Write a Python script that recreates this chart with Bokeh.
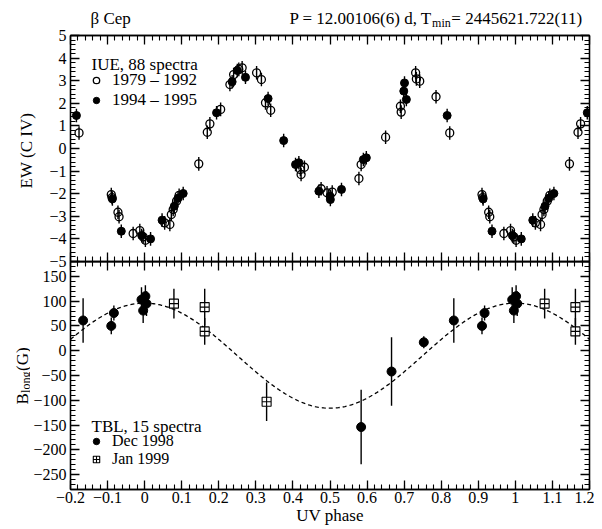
import numpy as np
from bokeh.plotting import figure
from bokeh.layouts import column, row
from bokeh.models import (FixedTicker, LinearAxis, Range1d, Label, Legend,
                          LegendItem, ColumnDataSource)
from bokeh.embed import file_html
from bokeh.resources import INLINE

# ---------------- data ----------------
# IUE C IV equivalent width, base phases in [0, 1)
IUE_OLD_PHASE = [0.002, 0.054, 0.068, 0.072, 0.077, 0.086, 0.093, 0.146, 0.169,
                 0.176, 0.205, 0.230, 0.240, 0.254, 0.263, 0.302, 0.315, 0.326,
                 0.340, 0.420, 0.422, 0.431, 0.476, 0.492, 0.506, 0.578, 0.584,
                 0.650, 0.690, 0.692, 0.731, 0.733, 0.742, 0.786, 0.823, 0.910,
                 0.912, 0.928, 0.931, 0.969, 0.987, 0.996]
IUE_OLD_EW = [-4.06, -3.29, -3.36, -2.92, -2.70, -2.33, -2.07, -0.68, 0.72,
              1.09, 1.73, 2.83, 3.27, 3.50, 3.57, 3.35, 3.05, 2.02,
              1.69, -0.93, -1.15, -0.83, -1.78, -1.96, -1.93, -1.33, -0.71,
              0.50, 1.87, 1.61, 3.35, 3.08, 2.98, 2.29, 0.69, -2.04,
              -2.17, -2.82, -3.02, -3.76, -3.63, -3.91]
IUE_NEW_PHASE = [0.016, 0.047, 0.080, 0.090, 0.104, 0.194, 0.236, 0.250, 0.272,
                 0.333, 0.375, 0.407, 0.416, 0.470, 0.500, 0.501, 0.531, 0.590,
                 0.598, 0.699, 0.701, 0.706, 0.816, 0.913, 0.937, 0.992]
IUE_NEW_EW = [-4.00, -3.17, -2.55, -2.20, -1.99, 1.58, 2.95, 3.45, 3.15,
              2.21, 0.35, -0.71, -0.63, -1.89, -2.11, -2.26, -1.81, -0.49,
              -0.41, 2.54, 2.90, 2.17, 1.46, -2.23, -3.66, -3.85]
EW_ERR = 0.3

# TBL longitudinal field
TBL_DEC_PHASE = [0.834, 0.910, 0.917, 0.9915, 0.002, 0.005, 0.996, 0.584, 0.666, 0.753]
TBL_DEC_B = [61, 50, 76, 103, 110, 95, 81, -154, -42, 17]
TBL_DEC_ERR = [45, 17, 15, 25, 22, 25, 25, 75, 69, 12]
TBL_JAN_PHASE = [0.079, 0.162, 0.162, 0.329]
TBL_JAN_B = [95, 88, 39, -103]
TBL_JAN_ERR = [30, 37, 27, 39]

# sinusoidal fit (dashed curve)
FIT_B0 = -10.0
FIT_AMP = 106.0
FIT_PHASE_MAX = 0.0

X_TICKS = [-0.2, -0.1, 0, 0.1, 0.2, 0.3, 0.4, 0.5, 0.6, 0.7, 0.8, 0.9, 1, 1.1, 1.2]
X_TICK_LABELS = ["\u22120.2", "\u22120.1", "0", "0.1", "0.2", "0.3", "0.4", "0.5",
                 "0.6", "0.7", "0.8", "0.9", "1", "1.1", "1.2"]
EW_TICKS = [-5, -4, -3, -2, -1, 0, 1, 2, 3, 4, 5]
EW_TICK_LABELS = ["\u22125", "\u22124", "\u22123", "\u22122", "\u22121", "0",
                  "1", "2", "3", "4", "5"]
B_TICKS = [-250, -200, -150, -100, -50, 0, 50, 100, 150]
B_TICK_LABELS = ["\u2212250", "\u2212200", "\u2212150", "\u2212100", "\u221250",
                 "0", "50", "100", "150"]

SERIF = "Liberation Serif"
X_RANGE = (-0.2, 1.2)


def extend(phases, vals, errs):
    xs, ys, es = [], [], []
    for ph, v, e in zip(phases, vals, errs):
        for shift in (-1, 0, 1):
            q = ph + shift
            if X_RANGE[0] <= q <= X_RANGE[1]:
                xs.append(q)
                ys.append(v)
                es.append(e)
    return dict(x=xs, y=ys, lo=[a - b for a, b in zip(ys, es)],
                hi=[a + b for a, b in zip(ys, es)])


def style_axis(ax, ticks, minor, labels=None):
    ax.ticker = FixedTicker(ticks=ticks, minor_ticks=minor)
    ax.major_tick_in = 9
    ax.major_tick_out = 0
    ax.minor_tick_in = 5
    ax.minor_tick_out = 0
    ax.axis_line_color = "black"
    ax.axis_line_width = 1.3
    ax.major_tick_line_color = "black"
    ax.major_tick_line_width = 1.3
    ax.minor_tick_line_color = "black"
    ax.minor_tick_line_width = 1.1
    ax.major_label_text_font = SERIF
    ax.major_label_text_color = "black"
    if labels is None:
        ax.major_label_text_font_size = "0px"
        ax.major_label_text_alpha = 0
        ax.major_label_standoff = 0
    else:
        ax.major_label_text_font_size = "16px"
        ax.major_label_standoff = 4
        ax.major_label_overrides = {t: l for t, l in zip(ticks, labels)}


def make_fig(width, height, yr, top, bottom, left):
    p = figure(width=width, height=height, x_range=Range1d(*X_RANGE),
               y_range=Range1d(*yr), output_backend="svg", toolbar_location=None,
               x_axis_location=None, y_axis_location=None,
               min_border_left=left, min_border_right=5,
               min_border_top=top, min_border_bottom=bottom)
    p.xgrid.visible = False
    p.ygrid.visible = False
    p.outline_line_color = "black"
    p.outline_line_width = 1.3
    return p


def text_fig(width, height):
    p = figure(width=width, height=height, x_range=Range1d(0, 1), y_range=Range1d(0, 1),
               output_backend="svg", toolbar_location=None,
               x_axis_location=None, y_axis_location=None, min_border=0,
               min_border_left=0, min_border_right=0, min_border_top=0,
               min_border_bottom=0)
    p.xgrid.visible = False
    p.ygrid.visible = False
    p.outline_line_color = None
    return p


def lab(p, text, x, y, size="17px", angle=0, align="left"):
    p.add_layout(Label(x=x, y=y, x_units="screen", y_units="screen", text=text,
                       text_font=SERIF, text_font_size=size, text_color="black",
                       angle=angle, angle_units="deg", text_align=align,
                       text_baseline="alphabetic"))


x_minor = [round(v, 3) for v in np.arange(-0.2, 1.2001, 0.02)]
ew_minor = [round(v, 2) for v in np.arange(-5, 5.001, 0.2)]
b_minor = [float(v) for v in np.arange(-280, 181, 10)]

TOTAL_W = 594
TITLE_H = 28
PAD = 7            # room for the half of an end tick label
TOP_FRAME_H = 226
BOT_H = 268
FRAME_LEFT = 70
PL2_W = 30

# ---------------- title row (frame aligned with the panels' frames) ----------------
pt = text_fig(TOTAL_W, TITLE_H)
lab(pt, "\u03b2 Cep", 20, 10)
lab(pt, "P = 12.00106(6) d, T", 218.9, 10)
lab(pt, "min", 361.6, 6, size="12px")
lab(pt, " = 2445621.722(11)", 380.8, 10)

# ---------------- top panel ----------------
p1 = make_fig(TOTAL_W, TOP_FRAME_H + 2 * PAD, (-5, 5), PAD, PAD, FRAME_LEFT)
p1.background_fill_color = "white"
p1.border_fill_color = "white"
for loc, labs in (("left", EW_TICK_LABELS), ("right", None)):
    ax = LinearAxis()
    style_axis(ax, EW_TICKS, ew_minor, labs)
    if loc == "left":
        ax.axis_label = "EW  (C IV)"
        ax.axis_label_text_font = SERIF
        ax.axis_label_text_font_size = "17px"
        ax.axis_label_text_font_style = "normal"
        ax.axis_label_text_color = "black"
        ax.axis_label_standoff = 10
    p1.add_layout(ax, loc)
for loc in ("above", "below"):
    ax = LinearAxis()
    style_axis(ax, X_TICKS, x_minor, None)
    p1.add_layout(ax, loc)

old = ColumnDataSource(extend(IUE_OLD_PHASE, IUE_OLD_EW, [EW_ERR] * len(IUE_OLD_EW)))
new = ColumnDataSource(extend(IUE_NEW_PHASE, IUE_NEW_EW, [EW_ERR] * len(IUE_NEW_EW)))
for src in (old, new):
    p1.segment(x0="x", y0="lo", x1="x", y1="hi", source=src, line_color="black",
               line_width=1.4)
r_old = p1.scatter("x", "y", source=old, marker="circle", size=8, fill_color=None,
                   line_color="black", line_width=1.3)
r_new = p1.scatter("x", "y", source=new, marker="circle", size=8, fill_color="black",
                   line_color="black", line_width=1)

leg1 = Legend(items=[LegendItem(label="1979 \u2013 1992", renderers=[r_old]),
                     LegendItem(label="1994 \u2013 1995", renderers=[r_new])],
              location=(18, 151), margin=0, padding=0, spacing=0,
              glyph_width=16, glyph_height=16, label_height=18, label_standoff=8,
              label_text_font=SERIF, label_text_font_size="17px",
              label_text_color="black",
              border_line_color=None, background_fill_alpha=0)
p1.add_layout(leg1, "center")
lab(p1, "IUE, 88 spectra", 21, 197)

# ---------------- bottom panel ----------------
p2 = make_fig(TOTAL_W - PL2_W, BOT_H, (-280, 180), 0, 40, FRAME_LEFT - PL2_W)
p2.background_fill_alpha = 0
p2.border_fill_alpha = 0
for loc, labs in (("left", B_TICK_LABELS), ("right", None)):
    ax = LinearAxis()
    style_axis(ax, B_TICKS, b_minor, labs)
    p2.add_layout(ax, loc)
for loc, labs in (("above", None), ("below", X_TICK_LABELS)):
    ax = LinearAxis()
    style_axis(ax, X_TICKS, x_minor, labs)
    if loc == "below":
        ax.axis_label = "UV phase"
        ax.axis_label_text_font = SERIF
        ax.axis_label_text_font_size = "17px"
        ax.axis_label_text_font_style = "normal"
        ax.axis_label_text_color = "black"
        ax.axis_label_standoff = 0
        ax.major_label_standoff = 2
    p2.add_layout(ax, loc)

fit_x = np.linspace(X_RANGE[0], X_RANGE[1], 400)
fit_y = FIT_B0 + FIT_AMP * np.cos(2 * np.pi * (fit_x - FIT_PHASE_MAX))
p2.line(fit_x, fit_y, line_color="black", line_dash="4 3", line_width=1.3)

dec = ColumnDataSource(extend(TBL_DEC_PHASE, TBL_DEC_B, TBL_DEC_ERR))
jan = ColumnDataSource(extend(TBL_JAN_PHASE, TBL_JAN_B, TBL_JAN_ERR))
for src in (dec, jan):
    p2.segment(x0="x", y0="lo", x1="x", y1="hi", source=src, line_color="black",
               line_width=1.4)
r_dec = p2.scatter("x", "y", source=dec, marker="circle", size=9, fill_color="black",
                   line_color="black")
r_jan = p2.scatter("x", "y", source=jan, marker="square_cross", size=9,
                   fill_color="white", line_color="black", line_width=1.1)

leg2 = Legend(items=[LegendItem(label="Dec 1998", renderers=[r_dec]),
                     LegendItem(label="Jan 1999", renderers=[r_jan])],
              location=(18, 21.1), margin=0, padding=0, spacing=0,
              glyph_width=16, glyph_height=16, label_height=18, label_standoff=8,
              label_text_font=SERIF, label_text_font_size="16px",
              label_text_color="black",
              border_line_color=None, background_fill_alpha=0)
p2.add_layout(leg2, "center")
lab(p2, "TBL, 15 spectra", 21, 63)

pl2 = text_fig(PL2_W, BOT_H)
pl2.background_fill_alpha = 0
pl2.border_fill_alpha = 0
lab(pl2, "B", 22, 85, angle=90)
lab(pl2, "long", 25.5, 96.6, size="12px", angle=90)
lab(pl2, "(G)", 22, 118.6, angle=90)

bottom_row = row(pl2, p2, spacing=0, margin=(-PAD, 0, 0, 0))
layout = column(pt, p1, bottom_row, spacing=0)
with open("out.html", "w") as f:
    f.write(file_html(layout, INLINE))
